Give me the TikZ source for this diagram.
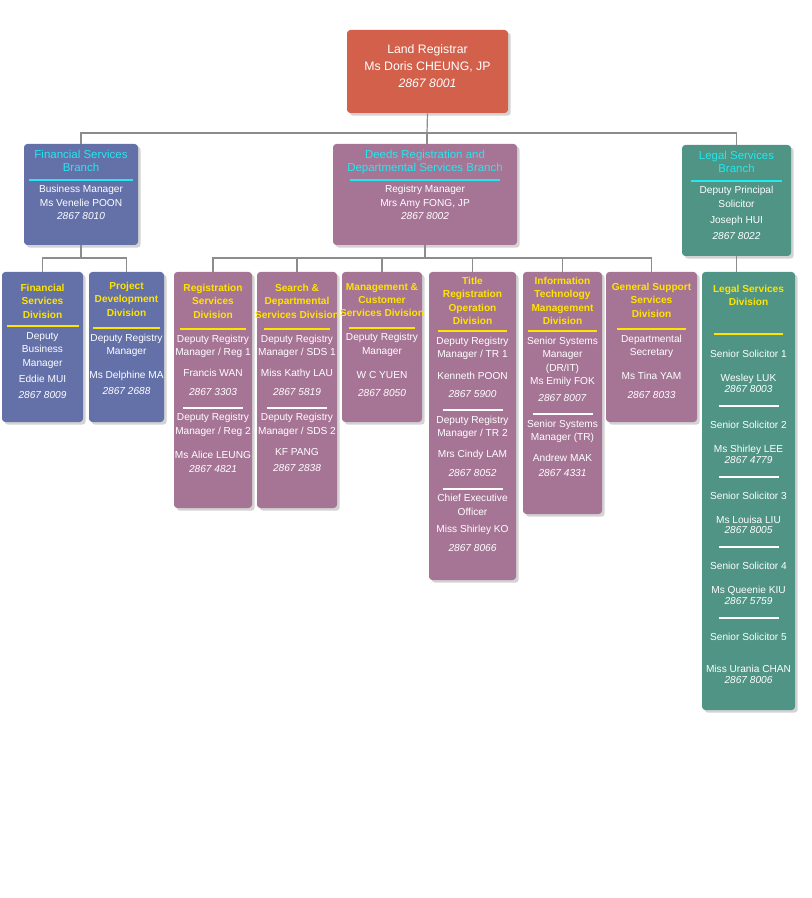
\documentclass[tikz,border=0pt]{standalone}
\usepackage{fontspec}
\setmainfont{Liberation Sans}
\usetikzlibrary{fit,shadows,calc}
\definecolor{cred}{HTML}{D2604A}
\definecolor{cblue}{HTML}{6470A8}
\definecolor{cmauve}{HTML}{A67596}
\definecolor{cteal}{HTML}{4F9484}
\definecolor{ylw}{HTML}{FFE400}
\definecolor{cyn}{HTML}{22E8F0}
\definecolor{lnc}{HTML}{8C8C8C}
\newcommand\yrule[1]{\textcolor{ylw}{\rule[2pt]{#1}{1.6pt}}}
\newcommand\crule[1]{\textcolor{cyn}{\rule[2pt]{#1}{1.6pt}}}
\newcommand\wrule[1]{\textcolor{white}{\rule[2pt]{#1}{1.6pt}}}
\newcommand\ttl[1]{\textcolor{ylw}{\bfseries #1}}
\newcommand\ctl[1]{\textcolor{cyn}{#1}}
\newcommand\ph[1]{\textit{#1}}
\newcommand\smf{\fontsize{7.6}{10}\selectfont}
\begin{document}
\begin{tikzpicture}[x=0.75pt,y=-0.75pt,
  box/.style={draw=none,rounded corners=2.5pt,inner sep=0pt,drop shadow={shadow xshift=2pt,shadow yshift=-2pt,opacity=0.35}},
  txt/.style={anchor=north,align=center,text=white,inner sep=0pt,font=\fontsize{7.6}{10}\selectfont},
  conn/.style={draw=lnc,line width=0.9pt}]
\useasboundingbox (0,0) rectangle (812,898);
% boxes
\node[box,fill=cred,fit={(347,30)(508,113)}] (land) {};
\node[box,fill=cblue,fit={(24,144)(138,245)}] (finb) {};
\node[box,fill=cmauve,fit={(333,144)(517,245)}] (deeds) {};
\node[box,fill=cteal,fit={(682,145)(791,256)}] (legb) {};
\node[box,fill=cblue,fit={(2,272)(83,422)}] (fsd) {};
\node[box,fill=cblue,fit={(89,272)(164,422)}] (pdd) {};
\node[box,fill=cmauve,fit={(174,272)(252,508)}] (rsd) {};
\node[box,fill=cmauve,fit={(257,272)(337,508)}] (sdd) {};
\node[box,fill=cmauve,fit={(342,272)(422,422)}] (mcs) {};
\node[box,fill=cmauve,fit={(429,272)(516,580)}] (trod) {};
\node[box,fill=cmauve,fit={(523,272)(602,514)}] (itm) {};
\node[box,fill=cmauve,fit={(606,272)(697,422)}] (gss) {};
\node[box,fill=cteal,fit={(702,272)(795,710)}] (legd) {};
% connectors
\coordinate (bus) at (427,133);
\coordinate (fbus) at (81,258);
\coordinate (dbus) at (425,258);
\draw[conn] (land.south) -- (bus);
\draw[conn] (finb.north) |- (bus) -| (legb.north);
\draw[conn] (bus) -- (bus |- deeds.north);
\draw[conn] (finb.south) -- (fbus);
\draw[conn] (fsd.north) |- (fbus) -| (pdd.north);
\draw[conn] (deeds.south) -- (deeds.south |- dbus);
\draw[conn] (rsd.north) |- (dbus) -| (gss.north);
\foreach \n in {sdd,mcs,trod,itm} \draw[conn] (\n.north) -- (\n.north |- dbus);
\draw[conn] (legb.south) -- (legb.south |- legd.north);
% texts
\node[txt,font=\fontsize{9.2}{12.5}\selectfont] (landt) at ($(land.north)+(0,15)$) {Land Registrar\\Ms Doris CHEUNG, JP\\\ph{2867 8001}};
\node[txt,font=\fontsize{8.6}{10}\selectfont] (finbt) at ($(finb.north)+(0,6)$) {\ctl{Financial Services}\\\ctl{Branch}\\[-1pt]\crule{78pt}\\[-3pt]
 \smf Business Manager\\\smf Ms Venelie POON\\\smf\ph{2867 8010}};
\node[txt,font=\fontsize{8.6}{10}\selectfont] (deedst) at ($(deeds.north)+(0,6)$) {\ctl{Deeds Registration and}\\\ctl{Departmental Services Branch}\\[-1pt]\crule{112pt}\\[-3pt]
 \smf Registry Manager\\\smf Mrs Amy FONG, JP\\\smf\ph{2867 8002}};
\node[txt,font=\fontsize{8.6}{10}\selectfont] (legbt) at ($(legb.north)+(0,6)$) {\ctl{Legal Services}\\\ctl{Branch}\\[-1pt]\crule{68pt}\\[-3pt]
 \smf Deputy Principal\\\smf Solicitor\\[2pt]\smf Joseph HUI\\[2pt]\smf\ph{2867 8022}};
\node[txt] (fsdt) at ($(fsd.north)+(0,12)$) {\ttl{Financial}\\\ttl{Services}\\\ttl{Division}\\[-1pt]\yrule{54pt}\\[-3pt]Deputy\\Business\\Manager\\[2pt]Eddie MUI\\[2pt]\ph{2867 8009}};
\node[txt] (pddt) at ($(pdd.north)+(0,10)$) {\ttl{Project}\\\ttl{Development}\\\ttl{Division}\\[2pt]\yrule{50pt}\\[-3pt]Deputy Registry\\Manager\\[8pt]Ms Delphine MA\\[2pt]\ph{2867 2688}};
\node[txt] (rsdt) at ($(rsd.north)+(0,12)$) {\ttl{Registration}\\\ttl{Services}\\\ttl{Division}\\[1pt]\yrule{50pt}\\[-3pt]Deputy Registry\\Manager / Reg 1\\[6pt]Francis WAN\\[4pt]\ph{2867 3303}\\[2pt]\wrule{45pt}\\[-3pt]Deputy Registry\\Manager / Reg 2\\[8pt]Ms Alice LEUNG\\[1pt]\ph{2867 4821}};
\node[txt] (sddt) at ($(sdd.north)+(0,12)$) {\ttl{Search \&}\\\ttl{Departmental}\\\ttl{Services Division}\\[1pt]\yrule{50pt}\\[-3pt]Deputy Registry\\Manager / SDS 1\\[6pt]Miss Kathy LAU\\[4pt]\ph{2867 5819}\\[2pt]\wrule{45pt}\\[-3pt]Deputy Registry\\Manager / SDS 2\\[6pt]KF PANG\\[2pt]\ph{2867 2838}};
\node[txt] (mcst) at ($(mcs.north)+(0,11)$) {\ttl{Management \&}\\\ttl{Customer}\\\ttl{Services Division}\\[1pt]\yrule{50pt}\\[-3pt]Deputy Registry\\Manager\\[8pt]W C YUEN\\[4pt]\ph{2867 8050}};
\node[txt] (trodt) at ($(trod.north)+(0,5)$) {\ttl{Title}\\\ttl{Registration}\\\ttl{Operation}\\\ttl{Division}\\[-2pt]\yrule{52pt}\\[-3pt]Deputy Registry\\Manager / TR 1\\[6pt]Kenneth POON\\[4pt]\ph{2867 5900}\\[2pt]\wrule{45pt}\\[-3pt]Deputy Registry\\Manager / TR 2\\[6pt]Mrs Cindy LAM\\[4pt]\ph{2867 8052}\\[2pt]\wrule{45pt}\\[-3pt]Chief Executive\\Officer\\[3pt]Miss Shirley KO\\[4pt]\ph{2867 8066}};
\node[txt] (itmt) at ($(itm.north)+(0,5)$) {\ttl{Information}\\\ttl{Technology}\\\ttl{Management}\\\ttl{Division}\\[-2pt]\yrule{52pt}\\[-3pt]Senior Systems\\Manager\\(DR/IT)\\Ms Emily FOK\\[3pt]\ph{2867 8007}\\[2pt]\wrule{45pt}\\[-3pt]Senior Systems\\Manager (TR)\\[6pt]Andrew MAK\\[1pt]\ph{2867 4331}};
\node[txt] (gsst) at ($(gss.north)+(0,11)$) {\ttl{General Support}\\\ttl{Services}\\\ttl{Division}\\[2pt]\yrule{52pt}\\[-3pt]Departmental\\Secretary\\[8pt]Ms Tina YAM\\[4pt]\ph{2867 8033}};
\node[txt] (legdt) at ($(legd.north)+(0,13)$) {\ttl{Legal Services}\\\ttl{Division}\\[14pt]\yrule{52pt}\\[5pt]
Senior Solicitor 1\\[8pt]Wesley LUK\\[-2pt]\ph{2867 8003}\\[3pt]\wrule{45pt}\\[4pt]
Senior Solicitor 2\\[8pt]Ms Shirley LEE\\[-2pt]\ph{2867 4779}\\[3pt]\wrule{45pt}\\[4pt]
Senior Solicitor 3\\[8pt]Ms Louisa LIU\\[-2pt]\ph{2867 8005}\\[3pt]\wrule{45pt}\\[4pt]
Senior Solicitor 4\\[8pt]Ms Queenie KIU\\[-2pt]\ph{2867 5759}\\[3pt]\wrule{45pt}\\[4pt]
Senior Solicitor 5\\[14pt]Miss Urania CHAN\\[-2pt]\ph{2867 8006}};
\end{tikzpicture}
\end{document}
